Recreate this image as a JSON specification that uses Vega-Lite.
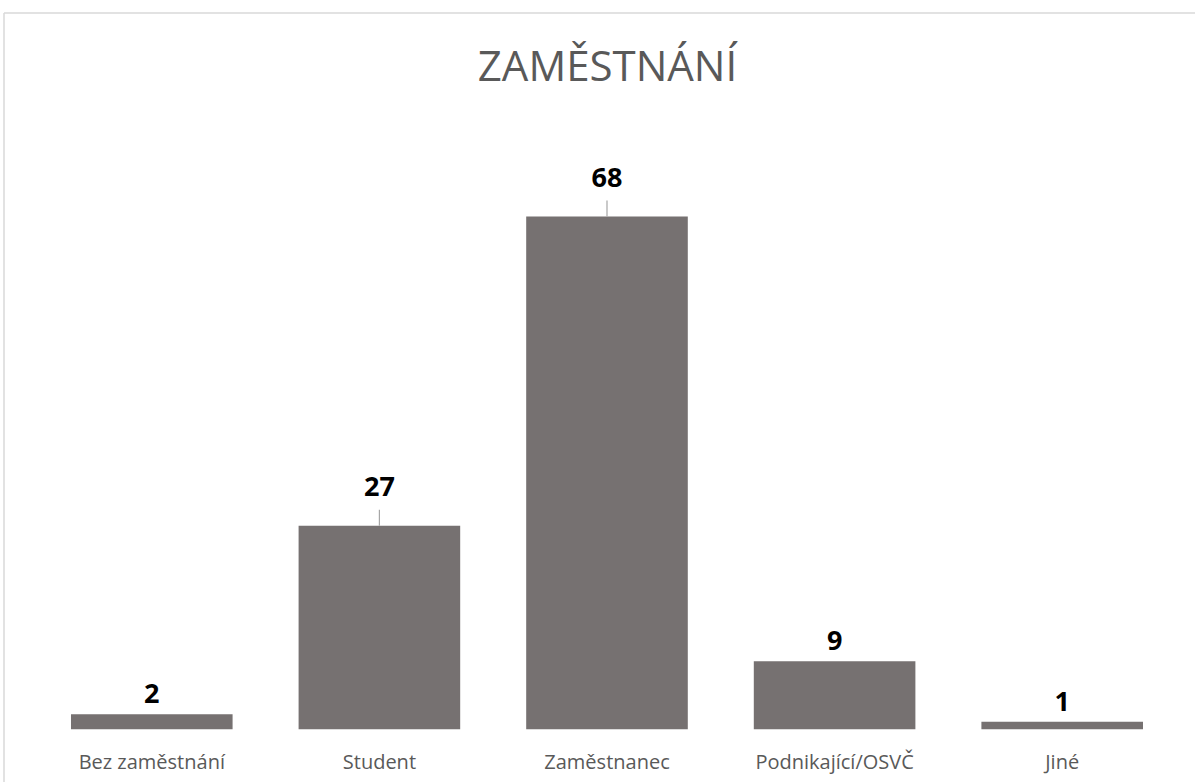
{
  "$schema": "https://vega.github.io/schema/vega-lite/v6.json",
  "width": 1191,
  "height": 769,
  "autosize": {"type": "none"},
  "padding": {"left": 4, "top": 13, "right": 0, "bottom": 0},
  "background": "white",
  "config": {
    "view": {"stroke": "#d9d9d9", "strokeWidth": 1.5, "strokeDash": [1191, 1960, 769, 0]},
    "font": "Open Sans"
  },
  "title": {
    "text": "ZAMĚSTNÁNÍ",
    "fontSize": 42,
    "font": "Open Sans",
    "fontWeight": "normal",
    "color": "#595959",
    "anchor": "middle",
    "baseline": "alphabetic",
    "offset": -110,
    "dx": 8
  },
  "data": {
    "values": [
      {"category": "Bez zaměstnání", "value": 2},
      {"category": "Student", "value": 27},
      {"category": "Zaměstnanec", "value": 68},
      {"category": "Podnikající/OSVČ", "value": 9},
      {"category": "Jiné", "value": 1}
    ]
  },
  "encoding": {
    "x": {
      "field": "category",
      "type": "nominal",
      "sort": null,
      "scale": {"paddingInner": 0.29, "paddingOuter": 0.2614, "align": 0.563},
      "axis": {
        "title": null,
        "orient": "bottom",
        "domain": false,
        "ticks": false,
        "grid": false,
        "labelFont": "Open Sans",
        "labelFontSize": 20,
        "labelColor": "#595959",
        "labelAngle": 0,
        "labelPadding": 0,
        "labelBaseline": "alphabetic",
        "offset": -14
      }
    },
    "y": {
      "field": "value",
      "type": "quantitative",
      "scale": {"domain": [-7, 95], "nice": false},
      "axis": null
    }
  },
  "layer": [
    {"mark": {"type": "bar", "color": "#767171"}},
    {
      "transform": [{"filter": "datum.value > 20"}],
      "mark": {"type": "rule", "color": "#a6a6a6", "strokeWidth": 1.2, "y2Offset": -16},
      "encoding": {"y2": {"field": "value"}}
    },
    {
      "transform": [{"filter": "datum.value > 20"}],
      "mark": {"type": "text", "font": "Open Sans", "fontWeight": "bold", "fontSize": 27, "color": "#000000", "baseline": "alphabetic", "dy": -29.5},
      "encoding": {"text": {"field": "value", "type": "quantitative"}}
    },
    {
      "transform": [{"filter": "datum.value <= 20"}],
      "mark": {"type": "text", "font": "Open Sans", "fontWeight": "bold", "fontSize": 27, "color": "#000000", "baseline": "alphabetic", "dy": -11},
      "encoding": {"text": {"field": "value", "type": "quantitative"}}
    }
  ]
}
